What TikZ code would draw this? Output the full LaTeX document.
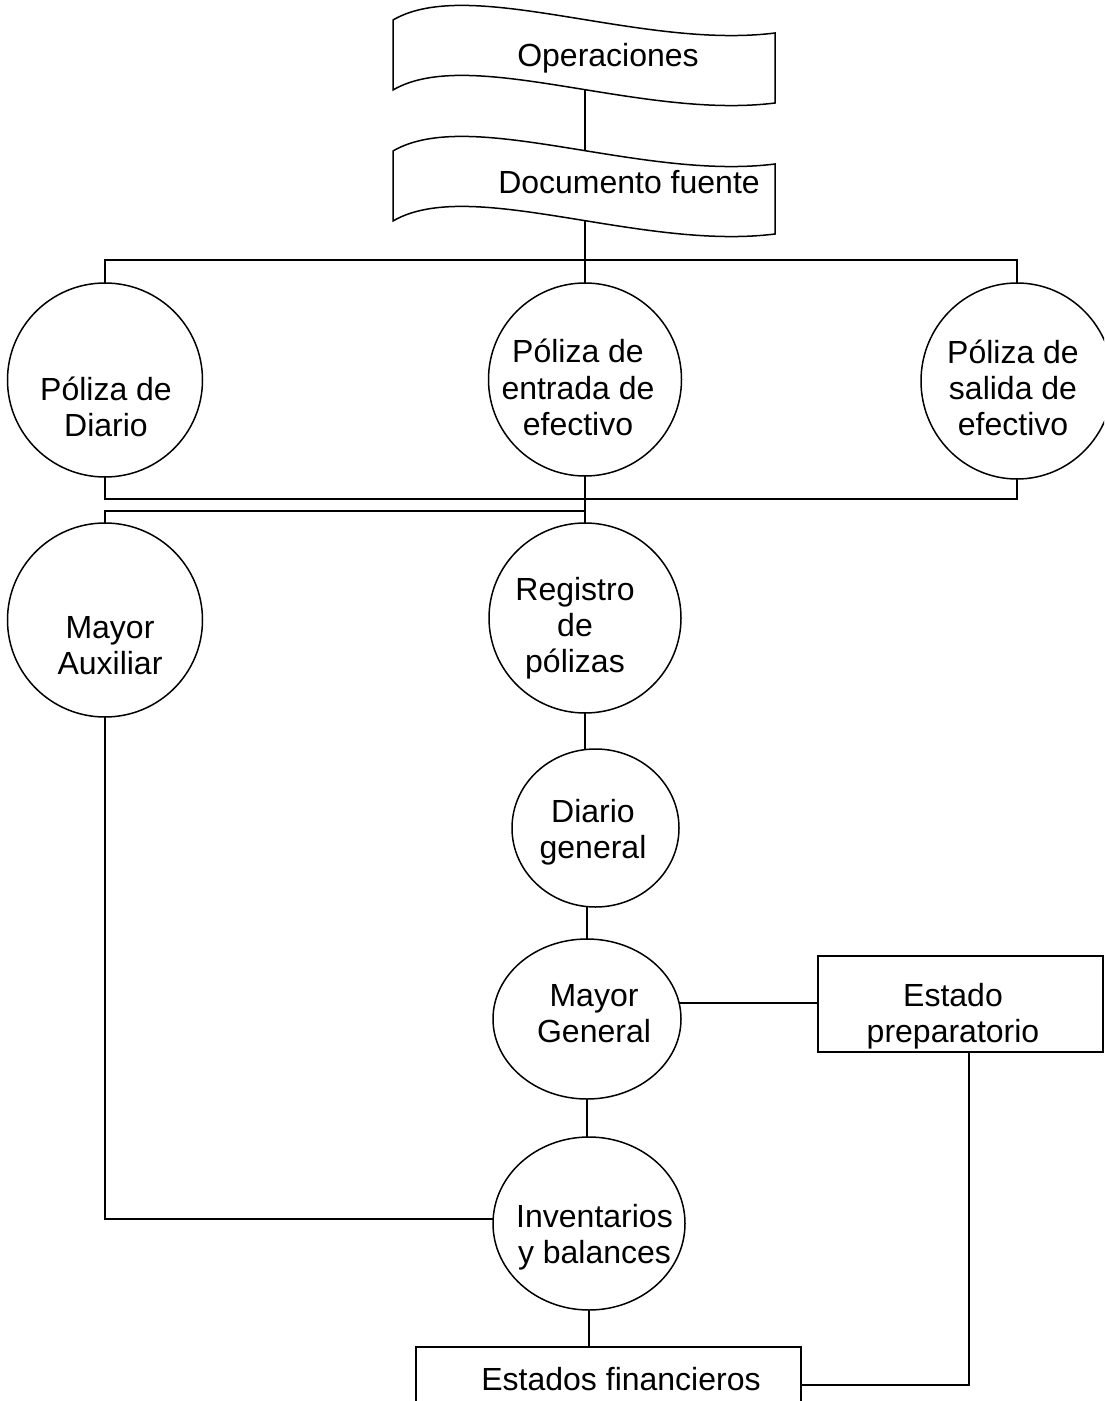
\documentclass[tikz,border=0pt]{standalone}
\usepackage{fontspec}
\setmainfont{Liberation Sans}
\usetikzlibrary{shapes.geometric}
\begin{document}
\begin{tikzpicture}[x=0.5pt,y=-0.5pt, line width=0.75pt,
  every node/.style={inner sep=0pt, outer sep=0pt},
  txt/.style={font=\fontsize{16}{18}\selectfont, align=center},
  oval/.style={draw, ellipse},
  box/.style={draw, rectangle}]
\useasboundingbox (0,0) rectangle (1104,1401);
\clip (0,0) rectangle (1104,1401);

% punched-tape shapes
\draw (393,20) .. controls (470,-25) and (640,50) .. (775,33) coordinate[pos=0.555] (opsT)
  -- (775,103) .. controls (640,120) and (470,45) .. (393,90) coordinate[pos=0.445] (opsB) -- cycle;
\draw (393,151) .. controls (470,106) and (640,181) .. (775,164) coordinate[pos=0.555] (docT)
  -- (775,234) .. controls (640,251) and (470,176) .. (393,221) coordinate[pos=0.445] (docB) -- cycle;
\node[txt, anchor=base] (ops) at (608,67) {Operaciones};
\node[txt, anchor=base] (doc) at (629,194) {Documento fuente};

% circles
\node[oval, minimum width=97.5pt, minimum height=97pt] (pd) at (105,380) {};
\node[oval, minimum width=96.5pt, minimum height=96.5pt] (pe) at (585,379.5) {};
\node[oval, minimum width=96pt, minimum height=98pt] (ps) at (1017,381) {};
\node[oval, minimum width=97.5pt, minimum height=97pt] (ma) at (105,620) {};
\node[oval, minimum width=96pt, minimum height=95pt] (rp) at (585,618) {};
\node[oval, minimum width=83.5pt, minimum height=79pt] (dg) at (595.5,828) {};
\node[oval, minimum width=94pt, minimum height=80pt] (mg) at (587,1019) {};
\node[oval, minimum width=96pt, minimum height=86.5pt] (ib) at (589,1223.5) {};
\node[box, minimum width=142.5pt, minimum height=48pt] (ep) at (960.5,1004) {};
\node[box, minimum width=192.5pt, minimum height=38pt] (ef) at (608.5,1385) {};

% labels
\node[txt] (tpd) at (106,410.8) {\strut Póliza de\\\strut Diario};
\node[txt] (tpe) at (578,391.8) {\strut Póliza de\\\strut entrada de\\\strut efectivo};
\node[txt] (tps) at (1013,392) {\strut Póliza de\\\strut salida de\\\strut efectivo};
\node[txt] (tma) at (110,648.8) {\strut Mayor\\\strut Auxiliar};
\node[txt] (trp) at (575,628.8) {\strut Registro\\\strut de\\\strut pólizas};
\node[txt] (tdg) at (593,832.8) {\strut Diario\\\strut general};
\node[txt] (tmg) at (594,1016.8) {\strut Mayor\\\strut General};
\node[txt] (tep) at (953,1016.8) {\strut Estado\\\strut preparatorio};
\node[txt] (tib) at (594.5,1237.8) {\strut Inventarios\\\strut y balances};
\node[txt, anchor=base] (tef) at (621,1390) {Estados financieros};

% connectors
\coordinate (bus1) at (585,260);
\coordinate (bus2) at (585,499);
\coordinate (bus3) at (585,511);
\draw (opsB -| bus1) -- (docT -| bus1);
\draw (docB -| bus1) -- (bus1);
\draw (pd.north) -- (pd.north |- bus1) -- (ps.north |- bus1) -- (ps.north);
\draw (pe.north) -- (pe.north |- bus1);
\draw (pd.south) -- (pd.south |- bus2) -- (ps.south |- bus2) -- (ps.south);
\draw (pe.south) -- (rp.north);
\draw (ma.north) -- (ma.north |- bus3) -- (rp.north |- bus3);
\draw (rp.south) -- (rp.south |- dg.north);
\draw (mg.north |- dg.south) -- (mg.north);
\draw (mg.10) -- (mg.10 -| ep.west);
\draw (mg.south) -- (mg.south |- ib.north);
\draw (ma.south) |- ([yshift=2.25pt]ib.west);
\draw (ib.south) -- (ib.south |- ef.north);
\draw ([xshift=4.25pt]ep.south) |- (ef.east);
\end{tikzpicture}
\end{document}
